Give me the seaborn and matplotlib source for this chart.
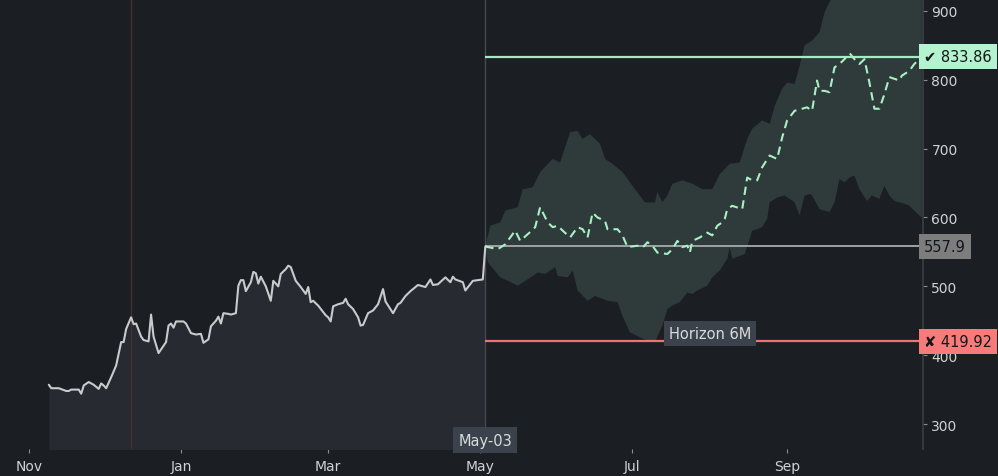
import numpy as np
import pandas as pd
import matplotlib
matplotlib.use("Agg")
import matplotlib.pyplot as plt
import matplotlib.dates as mdates
import seaborn as sns

# ---------------- data ----------------
hist_dates = ["2022-11-09", "2022-11-10", "2022-11-13", "2022-11-16", "2022-11-17", "2022-11-18",
              "2022-11-21", "2022-11-22", "2022-11-23", "2022-11-25", "2022-11-27", "2022-11-29",
              "2022-11-30", "2022-12-01", "2022-12-02", "2022-12-04", "2022-12-06", "2022-12-08",
              "2022-12-09", "2022-12-10", "2022-12-12", "2022-12-13", "2022-12-14", "2022-12-16",
              "2022-12-17", "2022-12-19", "2022-12-20", "2022-12-21", "2022-12-23", "2022-12-26",
              "2022-12-27", "2022-12-28", "2022-12-29", "2022-12-30", "2023-01-02", "2023-01-03",
              "2023-01-05", "2023-01-07", "2023-01-09", "2023-01-10", "2023-01-12", "2023-01-13",
              "2023-01-15", "2023-01-16", "2023-01-17", "2023-01-18", "2023-01-20", "2023-01-21",
              "2023-01-23", "2023-01-24", "2023-01-25", "2023-01-26", "2023-01-27", "2023-01-29",
              "2023-01-30", "2023-01-31", "2023-02-01", "2023-02-02", "2023-02-04", "2023-02-06",
              "2023-02-07", "2023-02-09", "2023-02-10", "2023-02-12", "2023-02-13", "2023-02-14",
              "2023-02-16", "2023-02-18", "2023-02-20", "2023-02-21", "2023-02-22", "2023-02-23",
              "2023-02-25", "2023-02-28", "2023-03-01", "2023-03-02", "2023-03-03", "2023-03-05",
              "2023-03-07", "2023-03-08", "2023-03-09", "2023-03-11", "2023-03-13", "2023-03-14",
              "2023-03-15", "2023-03-17", "2023-03-19", "2023-03-21", "2023-03-23", "2023-03-24",
              "2023-03-27", "2023-03-29", "2023-03-30", "2023-04-01", "2023-04-03", "2023-04-06",
              "2023-04-09", "2023-04-11", "2023-04-12", "2023-04-14", "2023-04-17", "2023-04-19",
              "2023-04-20", "2023-04-21", "2023-04-24", "2023-04-25", "2023-04-28", "2023-05-02",
              "2023-05-03"]
hist_values = [357, 352, 352, 348, 348, 350, 350, 344, 356, 361, 357, 351, 359, 356, 352, 368, 385,
               419, 419, 438, 455, 445, 446, 427, 422, 420, 459, 427, 403, 419, 443, 446, 440, 449,
               449, 446, 432, 430, 431, 418, 423, 442, 450, 456, 446, 461, 460, 459, 461, 501, 509,
               509, 493, 506, 521, 519, 504, 514, 500, 479, 508, 500, 518, 525, 530, 528, 508, 499,
               489, 499, 477, 479, 472, 458, 455, 449, 471, 474, 476, 482, 474, 467, 455, 443, 444,
               461, 465, 474, 496, 478, 461, 474, 476, 486, 493, 502, 499, 510, 502, 503, 513, 506,
               514, 510, 506, 494, 508, 510, 557.9]

fc_dates = ["2023-05-03", "2023-05-08", "2023-05-11", "2023-05-15", "2023-05-17", "2023-05-21",
            "2023-05-23", "2023-05-25", "2023-05-28", "2023-05-30", "2023-06-01", "2023-06-03",
            "2023-06-06", "2023-06-09", "2023-06-11", "2023-06-13", "2023-06-15", "2023-06-17",
            "2023-06-20", "2023-06-21", "2023-06-25", "2023-06-27", "2023-06-29", "2023-07-03",
            "2023-07-05", "2023-07-07", "2023-07-09", "2023-07-11", "2023-07-15", "2023-07-17",
            "2023-07-19", "2023-07-21", "2023-07-23", "2023-07-24", "2023-07-25", "2023-07-28",
            "2023-07-31", "2023-08-02", "2023-08-04", "2023-08-06", "2023-08-07", "2023-08-08",
            "2023-08-10", "2023-08-14", "2023-08-16", "2023-08-18", "2023-08-20", "2023-08-22",
            "2023-08-25", "2023-08-28", "2023-08-30", "2023-09-01", "2023-09-04", "2023-09-07",
            "2023-09-09", "2023-09-11", "2023-09-13", "2023-09-14", "2023-09-16", "2023-09-18",
            "2023-09-20", "2023-09-22", "2023-09-24", "2023-09-26", "2023-09-28", "2023-09-30",
            "2023-10-02", "2023-10-04", "2023-10-06", "2023-10-08", "2023-10-10", "2023-10-12",
            "2023-10-16", "2023-10-17", "2023-10-20", "2023-10-22", "2023-10-24", "2023-10-25"]
fc_median = [557.9, 554, 561, 581, 566, 579, 586, 615, 593, 586, 588, 581, 571, 586, 583, 571, 607,
             600, 595, 583, 583, 574, 557, 559, 556, 564, 559, 549, 547, 554, 566, 557, 559, 549,
             566, 571, 578, 574, 588, 593, 598, 612, 617, 612, 658, 654, 654, 673, 690, 685, 716,
             741, 755, 758, 760, 755, 799, 784, 784, 782, 818, 823, 830, 839, 830, 823, 830, 796,
             758, 758, 779, 804, 799, 806, 813, 823, 830, 833.86]

upper_dates = ["2023-05-03", "2023-05-05", "2023-05-09", "2023-05-11", "2023-05-16", "2023-05-18",
               "2023-05-22", "2023-05-25", "2023-05-30", "2023-06-02", "2023-06-06", "2023-06-09",
               "2023-06-11", "2023-06-14", "2023-06-18", "2023-06-20", "2023-06-23", "2023-06-27",
               "2023-07-01", "2023-07-06", "2023-07-10", "2023-07-11", "2023-07-13", "2023-07-15",
               "2023-07-17", "2023-07-21", "2023-07-25", "2023-07-29", "2023-08-02", "2023-08-05",
               "2023-08-09", "2023-08-13", "2023-08-16", "2023-08-18", "2023-08-22", "2023-08-25",
               "2023-08-27", "2023-08-30", "2023-09-01", "2023-09-04", "2023-09-06", "2023-09-08",
               "2023-09-11", "2023-09-14", "2023-09-16", "2023-09-18", "2023-09-22", "2023-09-28",
               "2023-10-05", "2023-10-12", "2023-10-20", "2023-10-25"]
upper_values = [557.9, 588, 593, 610, 615, 641, 644, 666, 685, 680, 724, 726, 714, 721, 707, 685,
                678, 666, 646, 622, 622, 637, 622, 632, 649, 654, 649, 641, 641, 663, 678, 680, 714,
                729, 741, 736, 762, 787, 796, 794, 820, 850, 857, 869, 898, 913, 935, 950, 965, 975,
                990, 1000]

lower_dates = ["2023-05-03", "2023-05-04", "2023-05-09", "2023-05-12", "2023-05-16", "2023-05-19",
               "2023-05-22", "2023-05-24", "2023-05-27", "2023-05-31", "2023-06-01", "2023-06-05",
               "2023-06-07", "2023-06-09", "2023-06-13", "2023-06-16", "2023-06-21", "2023-06-25",
               "2023-06-27", "2023-06-30", "2023-07-04", "2023-07-07", "2023-07-10", "2023-07-13",
               "2023-07-15", "2023-07-17", "2023-07-20", "2023-07-23", "2023-07-25", "2023-07-27",
               "2023-07-31", "2023-08-02", "2023-08-05", "2023-08-08", "2023-08-09", "2023-08-10",
               "2023-08-15", "2023-08-17", "2023-08-18", "2023-08-20", "2023-08-22", "2023-08-24",
               "2023-08-25", "2023-08-28", "2023-08-31", "2023-09-04", "2023-09-06", "2023-09-08",
               "2023-09-10", "2023-09-11", "2023-09-14", "2023-09-18", "2023-09-20", "2023-09-22",
               "2023-09-24", "2023-09-26", "2023-09-28", "2023-09-30", "2023-10-03", "2023-10-05",
               "2023-10-08", "2023-10-10", "2023-10-12", "2023-10-14", "2023-10-18", "2023-10-20",
               "2023-10-24", "2023-10-25"]
lower_values = [557.9, 535, 513, 508, 501, 508, 515, 520, 518, 528, 515, 513, 523, 494, 479, 486,
                479, 477, 457, 433, 426, 421, 419, 443, 467, 472, 477, 491, 489, 494, 501, 513, 523,
                540, 557, 540, 547, 569, 581, 583, 586, 598, 622, 629, 632, 622, 603, 632, 634, 632,
                612, 608, 622, 656, 651, 658, 661, 641, 624, 632, 627, 646, 632, 624, 620, 617, 603,
                600]

event_date = "2022-12-12"
anchor_date = "2023-05-03"
anchor_label = "May-03"
horizon_label = "Horizon 6M"
target_high = 833.86
target_mid = 557.9
target_low = 419.92
y_ticks = [300, 400, 500, 600, 700, 800, 900]

# ---------------- style ----------------
BG = "#1b1e22"
sns.set_theme(style="dark", rc={
    "figure.facecolor": BG, "axes.facecolor": BG,
    "axes.edgecolor": "#3a3f47", "text.color": "#d0d3d6",
    "xtick.color": "#8a8d92", "ytick.color": "#8a8d92",
})
plt.rcParams["font.family"] = ["DejaVu Sans"]

fig = plt.figure(figsize=(9.98, 4.77), dpi=100)
ax = fig.add_axes([0.006, 0.0566, 0.9189, 0.9434])

hist = pd.DataFrame({"date": pd.to_datetime(hist_dates), "value": hist_values})
fc = pd.DataFrame({"date": pd.to_datetime(fc_dates), "value": fc_median})
up_x = mdates.date2num(pd.to_datetime(upper_dates))
lo_x = mdates.date2num(pd.to_datetime(lower_dates))

y_lo, y_hi = 263.7, 917.4
x_left = pd.Timestamp("2022-10-22 20:00")
x_right = pd.Timestamp("2023-10-25 12:00")
anchor = pd.Timestamp(anchor_date)

# forecast band
ax.fill(np.concatenate([up_x, lo_x[::-1]]),
        np.concatenate([upper_values, lower_values[::-1]]),
        color="#2f3b3a", lw=0, zorder=1)

# history area
ax.fill_between(hist["date"], hist["value"], y_lo - 50, color="#272a30", lw=0, zorder=1)

# vertical markers
ax.axvline(pd.Timestamp(event_date), color="#43332c", lw=1, zorder=1.5)
ax.axvline(anchor, color="#454a52", lw=1, zorder=1.5)

# target lines
ax.hlines([target_high], anchor, x_right, color="#a6e9c2", lw=1.6, zorder=2)
ax.hlines([target_mid], anchor, x_right, color="#a9abad", lw=1.3, zorder=2)
ax.hlines([target_low], anchor, x_right, color="#f07272", lw=1.6, zorder=2)

# lines
sns.lineplot(data=hist, x="date", y="value", ax=ax, color="#c9cacc", lw=1.5, zorder=3)
sns.lineplot(data=fc, x="date", y="value", ax=ax, color="#a8f0c6", lw=1.5, zorder=3)
ax.lines[-1].set_dashes([4, 2.6])

ax.set_xlim(x_left, x_right)
ax.set_ylim(y_lo, y_hi)
ax.set_xlabel("")
ax.set_ylabel("")
ax.grid(False)

# axes styling
for s in ["left", "top", "bottom"]:
    ax.spines[s].set_visible(False)
ax.spines["right"].set_color("#3a3f47")
ax.spines["right"].set_linewidth(1.2)
ax.yaxis.tick_right()
ax.set_yticks(y_ticks)
ax.tick_params(axis="y", length=3, width=0.8, pad=3, labelsize=10,
               colors="#8a8d92", right=True, left=False)
ax.tick_params(axis="y", labelcolor="#d0d3d6")
ax.xaxis.set_major_locator(mdates.MonthLocator(bymonth=[1, 3, 5, 7, 9, 11]))
ax.xaxis.set_major_formatter(mdates.DateFormatter("%b"))
ax.tick_params(axis="x", length=3, width=0.8, pad=4, labelsize=10, bottom=True)
for t in ax.get_xticklabels():
    t.set_color("#d0d3d6")

# right-side value boxes
ytr = ax.get_yaxis_transform()
box_specs = [
    ("\u2714 " + f"{target_high:.2f}", target_high, "#b5f2cf"),
    (f"{target_mid}", target_mid, "#7d7d7d"),
    ("\u2718 " + f"{target_low:.2f}", target_low, "#f77b7b"),
]
for txt, val, col in box_specs:
    ax.annotate(txt, xy=(1.0, val), xycoords=ytr, xytext=(1, 0), textcoords="offset pixels",
                ha="left", va="center", fontsize=10.5, color="#15171a", zorder=6,
                annotation_clip=False,
                bbox=dict(boxstyle="square,pad=0.35", fc=col, ec="none"))

# anchor date label
ax.text(anchor, 0.02, anchor_label, transform=ax.get_xaxis_transform(), ha="center",
        va="center", fontsize=10.5, color="#d8dce0", zorder=6, clip_on=False,
        bbox=dict(boxstyle="square,pad=0.35", fc="#3b424b", ec="none"))

# horizon label
ax.text(pd.Timestamp("2023-08-01"), 431, horizon_label, ha="center", va="center",
        fontsize=10.5, color="#d8dce0", zorder=6,
        bbox=dict(boxstyle="square,pad=0.35", fc="#3b424b", ec="none"))

fig.savefig("out.png", dpi=100, facecolor=BG)
